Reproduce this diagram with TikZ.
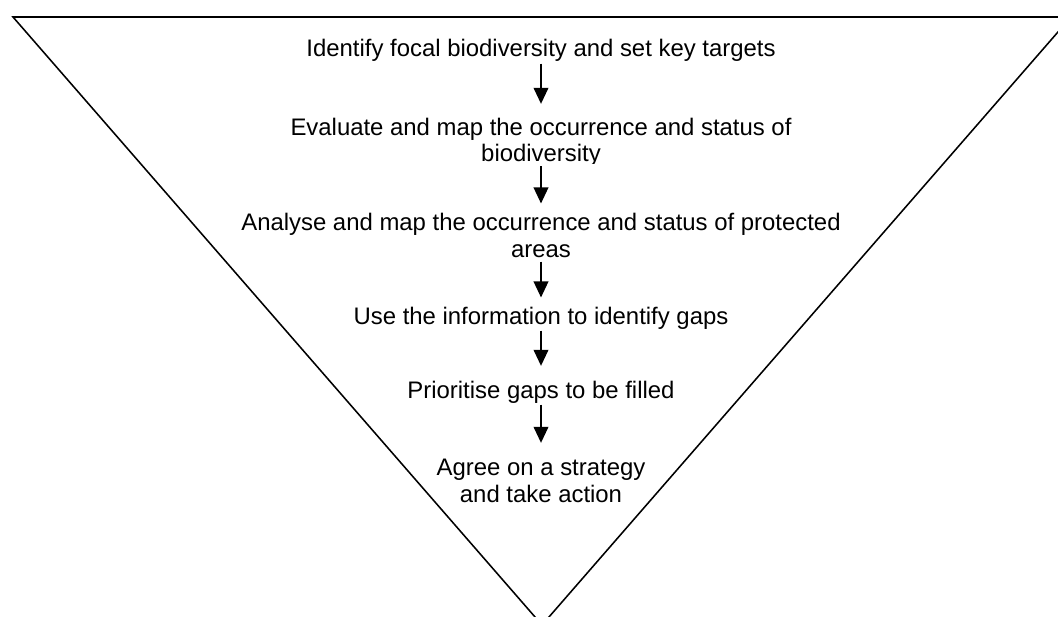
\documentclass[tikz,border=0pt]{standalone}
\usepackage{fontspec}
\setmainfont{Liberation Sans}
\usetikzlibrary{arrows.meta}

\tikzset{
  funnel/.style={line width=1.1pt, line join=miter},
  steptext/.style={font=\fontsize{17}{20}\selectfont, inner sep=0pt, anchor=base,
    text height=12.2pt, text depth=0pt},
  flow/.style={line width=0.9pt, -{Triangle[length=0.4cm,width=0.37cm]},
    shorten <=4.5pt, shorten >=10.5pt},
  tight/.style={shorten <=3pt, shorten >=6.5pt}
}

\begin{document}
\begin{tikzpicture}[x=0.025cm,y=-0.025cm]
  \useasboundingbox (0,0) rectangle (1058,617);
  % the inverted triangle, cut off by the page at the right and bottom
  \begin{scope}
    \clip (0,0) rectangle (1058,617);
    \draw[funnel] (13,17) -- (1071,17) -- (542,625) -- cycle;
  \end{scope}

  \node[steptext] (n1) at (541,57) {Identify focal biodiversity and set key targets};
  \node[steptext] (n2a) at (541,136) {Evaluate and map the occurrence and status of};
  % second line is cut off just under the baseline
  \begin{scope}
    \clip (300,140) rectangle (800,163.5);
    \node[steptext] (n2b) at (541,162) {biodiversity};
  \end{scope}
  \node[steptext] (n3a) at (541,230) {Analyse and map the occurrence and status of protected};
  \node[steptext] (n3b) at (541,257) {areas};
  \node[steptext] (n4) at (541,324) {Use the information to identify gaps};
  \node[steptext] (n5) at (541,398) {Prioritise gaps to be filled};
  \node[steptext] (n6a) at (541,475) {Agree on a strategy};
  \node[steptext] (n6b) at (541,502) {and take action};

  \draw[flow] (n1) -- (n2a);
  \draw[flow,tight] (n2b) -- (n3a);
  \draw[flow,tight] (n3b) -- (n4);
  \draw[flow] (n4) -- (n5);
  \draw[flow] (n5) -- (n6a);
\end{tikzpicture}
\end{document}
